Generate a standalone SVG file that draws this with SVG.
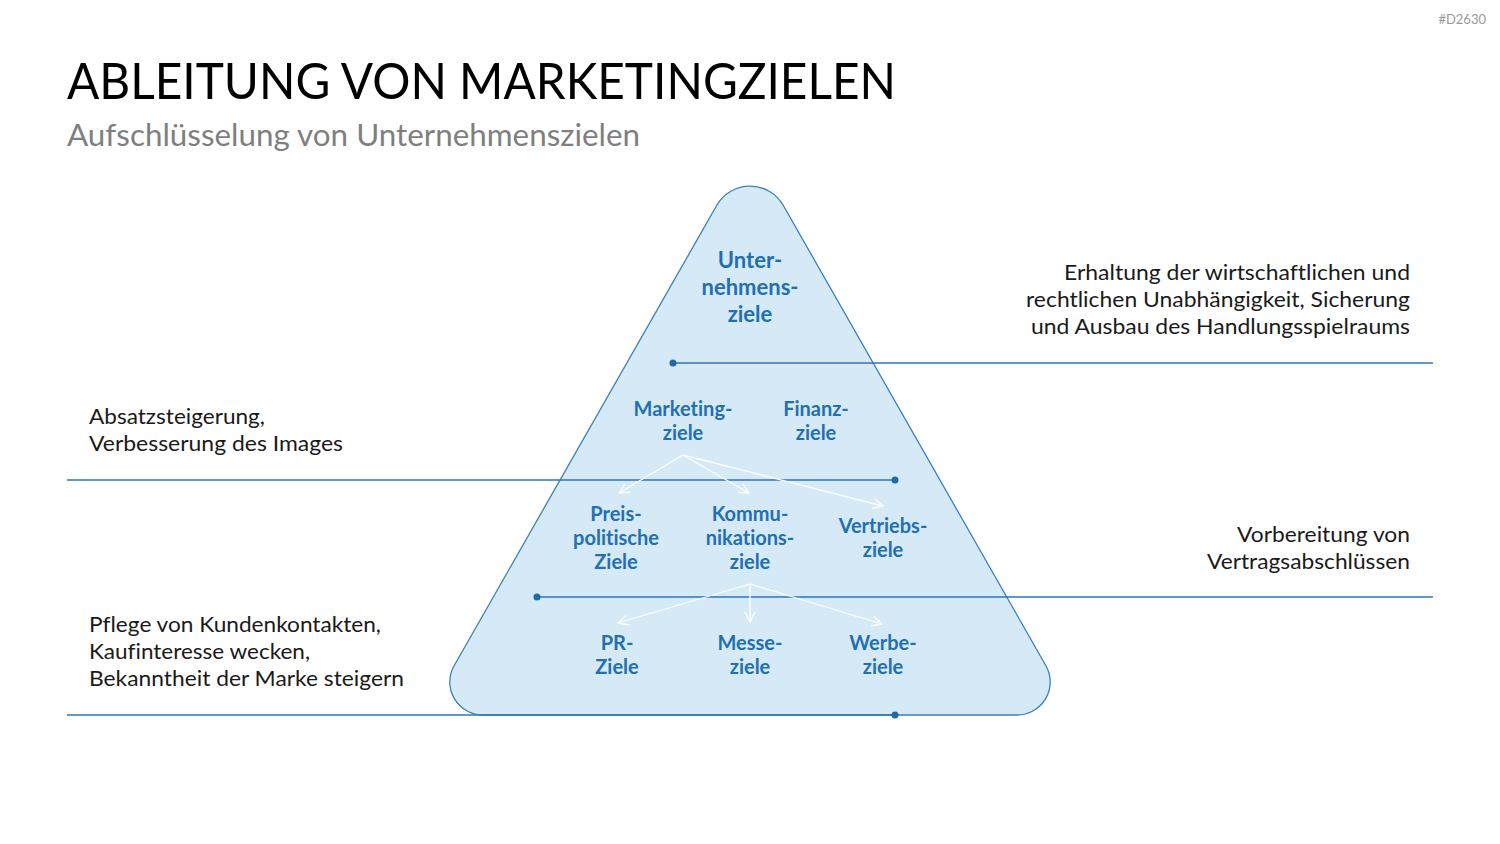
<svg xmlns="http://www.w3.org/2000/svg" width="1500" height="844" viewBox="0 0 1500 844">
<style>
text{font-variant-ligatures:none}
.title{font-family:Lato,"Open Sans",sans-serif;fill:#000;font-size:50px}
.sub{font-family:Lato,"Open Sans",sans-serif;fill:#7f7f7f;font-size:30px}
.side{font-family:Lato,"Open Sans",sans-serif;fill:#1a1a1a;font-size:22px}
.lbl{font-family:Lato,"Open Sans",sans-serif;fill:#2270b0;font-size:20px;font-weight:bold;text-anchor:middle}
.big{font-size:22px}
.ln{stroke:#2e75b6;stroke-width:1.3;fill:none}
.dot{fill:#1f6aa8}
.arr{stroke:#ffffff;stroke-width:1.3;fill:none;marker-end:url(#ah)}
</style>
<defs>
<marker id="ah" viewBox="0 0 12 12" refX="11" refY="6" markerWidth="12" markerHeight="12" markerUnits="userSpaceOnUse" orient="auto">
<path d="M1,1 L11,6 L1,11" fill="none" stroke="#ffffff" stroke-width="1.3"/>
</marker>
</defs>
<rect width="1500" height="844" fill="#ffffff"/>
<text x="1486" y="24" text-anchor="end" font-family="Lato,'Open Sans',sans-serif" font-size="13" fill="#9a9a9a">#D2630</text>
<text class="title" x="67" y="99" textLength="829" lengthAdjust="spacingAndGlyphs">ABLEITUNG VON MARKETINGZIELEN</text>
<text class="sub" x="67" y="146" textLength="573" lengthAdjust="spacingAndGlyphs">Aufschlüsselung von Unternehmenszielen</text>

<g id="pyramid">
<path d="M716.8 205.3 A38.3 38.3 0 0 1 783.2 205.3 L1045.9 665.7 A33 33 0 0 1 1017 715 L483 715 A33 33 0 0 1 454.1 665.7 Z" fill="#d6e9f7" stroke="#3a80bf" stroke-width="1.3"/>
</g>

<g id="connectors">
<line class="ln" x1="673" y1="363" x2="1433" y2="363"/>
<circle class="dot" cx="673" cy="363" r="3.5"/>
<line class="ln" x1="67" y1="480" x2="895" y2="480"/>
<circle class="dot" cx="895" cy="480" r="3.5"/>
<line class="ln" x1="537" y1="597" x2="1433" y2="597"/>
<circle class="dot" cx="537" cy="597" r="3.5"/>
<line class="ln" x1="67" y1="715" x2="895" y2="715"/>
<circle class="dot" cx="895" cy="715" r="3.5"/>
<line class="arr" x1="683" y1="455" x2="619" y2="493"/>
<line class="arr" x1="683" y1="455" x2="749" y2="493"/>
<line class="arr" x1="683" y1="455" x2="883" y2="506"/>
<line class="arr" x1="750" y1="584" x2="618" y2="623"/>
<line class="arr" x1="750" y1="584" x2="750" y2="622"/>
<line class="arr" x1="750" y1="584" x2="882" y2="624"/>
</g>

<g id="n-unternehmensziele">
<text class="lbl big" x="750" y="268">Unter-</text>
<text class="lbl big" x="750" y="295">nehmens-</text>
<text class="lbl big" x="750" y="322">ziele</text>
</g>
<g id="n-marketingziele">
<text class="lbl" x="683" y="416">Marketing-</text>
<text class="lbl" x="683" y="440">ziele</text>
</g>
<g id="n-finanzziele">
<text class="lbl" x="816" y="416">Finanz-</text>
<text class="lbl" x="816" y="440">ziele</text>
</g>
<g id="n-preis">
<text class="lbl" x="616" y="521">Preis-</text>
<text class="lbl" x="616" y="545">politische</text>
<text class="lbl" x="616" y="569">Ziele</text>
</g>
<g id="n-kommunikation">
<text class="lbl" x="750" y="521">Kommu-</text>
<text class="lbl" x="750" y="545">nikations-</text>
<text class="lbl" x="750" y="569">ziele</text>
</g>
<g id="n-vertrieb">
<text class="lbl" x="883" y="533">Vertriebs-</text>
<text class="lbl" x="883" y="557">ziele</text>
</g>
<g id="n-pr">
<text class="lbl" x="617" y="650">PR-</text>
<text class="lbl" x="617" y="674">Ziele</text>
</g>
<g id="n-messe">
<text class="lbl" x="750" y="650">Messe-</text>
<text class="lbl" x="750" y="674">ziele</text>
</g>
<g id="n-werbe">
<text class="lbl" x="883" y="650">Werbe-</text>
<text class="lbl" x="883" y="674">ziele</text>
</g>

<g id="desc-right-1" text-anchor="end">
<text class="side" x="1410" y="280" textLength="346" lengthAdjust="spacingAndGlyphs">Erhaltung der wirtschaftlichen und</text>
<text class="side" x="1410" y="307" textLength="384" lengthAdjust="spacingAndGlyphs">rechtlichen Unabhängigkeit, Sicherung</text>
<text class="side" x="1410" y="334" textLength="379" lengthAdjust="spacingAndGlyphs">und Ausbau des Handlungsspielraums</text>
</g>
<g id="desc-left-1">
<text class="side" x="89" y="424" textLength="176" lengthAdjust="spacingAndGlyphs">Absatzsteigerung,</text>
<text class="side" x="89" y="451" textLength="254" lengthAdjust="spacingAndGlyphs">Verbesserung des Images</text>
</g>
<g id="desc-right-2" text-anchor="end">
<text class="side" x="1410" y="542" textLength="173" lengthAdjust="spacingAndGlyphs">Vorbereitung von</text>
<text class="side" x="1410" y="569" textLength="203" lengthAdjust="spacingAndGlyphs">Vertragsabschlüssen</text>
</g>
<g id="desc-left-2">
<text class="side" x="89" y="632" textLength="292" lengthAdjust="spacingAndGlyphs">Pflege von Kundenkontakten,</text>
<text class="side" x="89" y="659" textLength="221" lengthAdjust="spacingAndGlyphs">Kaufinteresse wecken,</text>
<text class="side" x="89" y="686" textLength="315" lengthAdjust="spacingAndGlyphs">Bekanntheit der Marke steigern</text>
</g>
</svg>
